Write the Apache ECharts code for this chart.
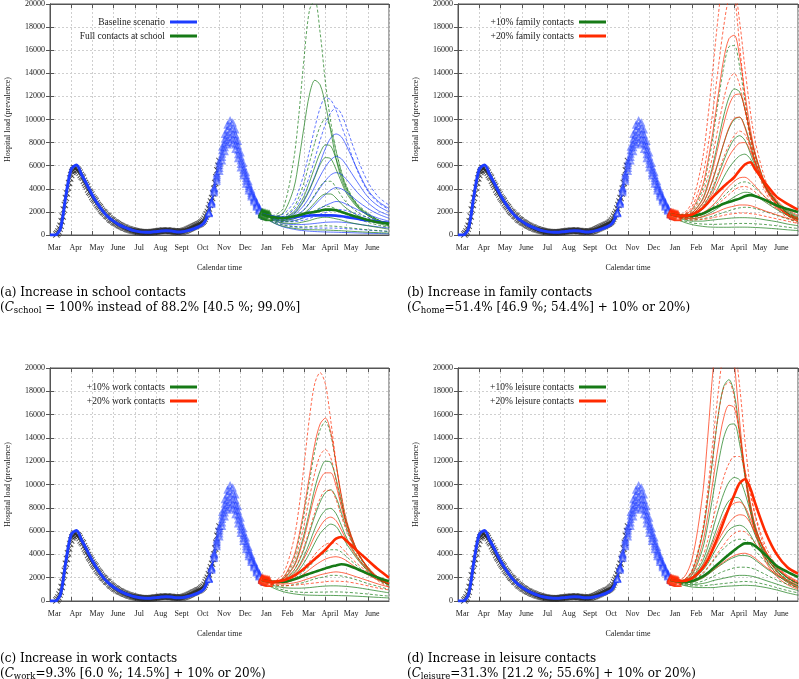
<!DOCTYPE html>
<html><head><meta charset="utf-8">
<script src="https://cdn.jsdelivr.net/npm/echarts/dist/echarts.min.js"></script>
<style>html,body{margin:0;padding:0;background:#fff}#c{width:799px;height:679px}</style>
</head><body><div id="c"></div>
<script>
// ---------- axis labels ----------
const monthLabels = ['Mar','Apr','May','June','Jul','Aug','Sept','Oct','Nov','Dec','Jan','Feb','Mar','April','May','June'];

// ---------- observed hospital load (x = months since 1 March) ----------
const obsStart = 0.3, obsStep = 0.1;
const obsValues = [50,300,800,1600,2600,3600,4500,5200,5600,5750,5650,5400,5050,4700,4350,3950,3650,3300,3050,2750,2500,2250,2000,1850,1650,1450,1300,1150,1050,930,820,730,640,570,500,440,390,340,300,280,250,230,220,220,230,250,270,300,320,340,360,370,380,370,350,320,300,280,280,300,340,400,470,560,650,740,820,900,1000,1150,1400,1800,2300,2900,3600,4500,5600,6400];
const obsStartB = 0.35;
const obsValuesB = [150,550,1200,2200,3200,4100,4900,5450,5800,5600,5550,5200,4950,4500,4200,3750,3500,3150,2950,2600,2400,2100,1950,1700,1600,1350,1250,1080,1000,860,790,680,620,530,480,410,370,320,290,260,240,220,210,230,240,260,290,310,340,350,380,370,390,350,340,300,290,270,300,310,370,430,520,600,700,780,870,950,1080,1250,1600,2000,2600,3200,4000,5000,6000];

// ---------- model fit (step 0.25 from 0) ----------
const fitStep = 0.25;
const fitValues = [0,0,600,3400,5700,6050,5200,4350,3450,2700,2050,1550,1200,900,680,500,360,270,230,240,290,340,370,340,270,290,380,520,700,1000,1900];

// ---------- model ensemble during second wave (step 0.125 from 7.5) ----------
const bandStart = 7.5, bandStep = 0.125;
const bandCentral = [1900,2800,3900,5000,6000,7000,7900,8600,8900,8700,8200,7300,6400,5600,4900,4200,3600,3100,2600,2200,1850,1650];
const bandUpper   = [1950,2900,4100,5300,6400,7600,8700,9500,9900,9700,9100,8100,7100,6200,5400,4600,3900,3300,2800,2350,1950,1700];
const bandLower   = [1850,2650,3650,4650,5500,6400,7200,7800,8000,7900,7400,6600,5800,5100,4400,3800,3300,2850,2400,2050,1750,1600];
const bandMidUp   = [1920,2850,4000,5150,6200,7300,8300,9100,9400,9200,8650,7700,6750,5900,5150,4400,3750,3200,2700,2280,1900,1680];
const bandMidLow  = [1880,2720,3780,4820,5750,6700,7550,8200,8450,8300,7800,6950,6100,5350,4650,4000,3450,2980,2500,2120,1800,1620];

// ---------- scenario start cluster (first days of each scenario) ----------
const startX = [10.0,10.05,10.1,10.15,10.2,10.25,10.3,10.35];
const startHigh = [1950,1950,1900,1900,1850,1850,1800,1800];
const startMid  = [1850,1800,1780,1750,1720,1700,1680,1650];
const startLow  = [1750,1700,1650,1620,1580,1550,1520,1500];

// ---------- scenario x positions (months since 1 March 2020) ----------
const scenX = [10,10.5,11,11.5,11.75,12,12.25,12.5,12.75,13,13.25,13.5,13.75,14,14.5,15,15.5,16];

// ---------- (a) school ----------
const schoolBaseLines = [
 [1800,1600,1800,2800,3900,5400,7300,9300,11000,11900,11700,10800,9500,8200,5600,3800,2800,2200],
 [1800,1550,1600,2200,2900,3900,5100,6600,8200,9600,10600,11000,10500,9300,6700,4600,3300,2600],
 [1800,1550,1500,1900,2400,3100,4000,5100,6300,7500,8400,8750,8500,7700,5700,3900,2900,2300],
 [1800,1500,1450,1700,2100,2600,3300,4200,5100,5900,6500,6800,6600,6000,4600,3300,2500,2000],
 [1800,1500,1400,1600,1850,2200,2750,3400,4100,4700,5200,5400,5250,4800,3700,2800,2100,1700],
 [1800,1450,1300,1400,1550,1800,2150,2600,3100,3500,3900,4100,4000,3700,2950,2300,1800,1450],
 [1800,1400,1200,1250,1350,1500,1750,2000,2300,2550,2750,2900,2850,2650,2200,1800,1450,1200],
 [1800,1400,1150,1150,1200,1300,1450,1600,1800,1950,2100,2200,2200,2100,1800,1500,1250,1050],
 [1750,1300,1000,900,900,920,950,1000,1050,1100,1120,1130,1110,1070,950,820,700,600],
 [1700,1200,850,700,650,620,600,600,600,600,600,590,570,550,490,420,360,310],
 [1650,1100,700,500,420,370,330,300,280,260,250,240,220,210,180,150,130,110]
];
const schoolBaseDash = [1,1,0,0,0,0,0,1,0,1,0];
const schoolFullLines = [
 [1800,1700,2300,6500,10500,15500,19500,20300,17500,13200,9800,7300,5500,4200,2700,1900,1300,900],
 [1800,1600,1900,4000,6500,9500,12200,13400,13000,11300,9000,6600,4900,3800,2500,1700,1200,850],
 [1800,1550,1600,2400,3300,4600,6300,8000,9400,10100,9200,7300,5500,4100,2600,1800,1300,900],
 [1800,1500,1500,2000,2600,3400,4600,5900,7100,7800,7700,6600,5200,4000,2600,1800,1300,900],
 [1800,1500,1400,1800,2300,3000,3900,5000,6100,6700,6600,5700,4600,3600,2400,1700,1200,850],
 [1800,1450,1300,1550,1800,2200,2800,3500,4200,4650,4650,4100,3400,2800,2000,1500,1100,800],
 [1800,1400,1250,1400,1600,1900,2300,2800,3300,3550,3550,3200,2700,2300,1700,1300,1000,750],
 [1800,1350,1150,1200,1350,1550,1800,2100,2350,2500,2450,2250,2000,1750,1400,1100,850,650],
 [1800,1300,1050,1000,1050,1150,1250,1400,1500,1550,1500,1400,1300,1150,950,800,650,500],
 [1750,1200,900,750,720,700,720,750,780,800,780,750,700,650,550,450,380,300],
 [1700,1100,750,580,520,480,460,450,440,430,410,390,370,340,290,240,200,170]
];
const schoolFullDash = [1,0,1,0,0,1,0,1,0,1,0];
const schoolBaseMean = [1800,1600,1480,1550,1600,1650,1680,1700,1700,1700,1700,1680,1620,1550,1400,1250,1150,1050];
const schoolFullMean = [1800,1550,1450,1600,1700,1850,1950,2000,2100,2200,2200,2150,2000,1850,1550,1300,1100,1000];

// ---------- (b) family ----------
const family10Lines = [
 [1800,1750,2100,3900,5900,8500,11600,14500,16300,16400,14600,11600,8800,6700,4000,2600,1700,1200],
 [1800,1700,1900,3100,4400,6100,8200,10300,11900,12650,12400,10900,8800,6900,4300,2800,1900,1400],
 [1800,1650,1800,2700,3600,4800,6300,7900,9200,10000,10200,9400,7900,6300,4100,2800,1900,1400],
 [1800,1650,1750,2400,3100,4000,5200,6400,7500,8300,8600,8200,7100,5900,4000,2800,2000,1500],
 [1800,1600,1650,2200,2700,3300,4100,5000,5800,6400,6850,7000,6600,5700,4100,2900,2100,1600],
 [1800,1550,1500,1800,2100,2450,2900,3350,3800,4200,4500,4600,4450,4050,3200,2500,1900,1500],
 [1800,1500,1400,1600,1800,2050,2350,2700,3000,3300,3550,3700,3650,3400,2800,2200,1700,1350],
 [1800,1450,1300,1400,1500,1650,1800,1950,2100,2250,2350,2400,2380,2300,2000,1700,1400,1150],
 [1750,1400,1200,1200,1250,1300,1350,1400,1450,1480,1500,1500,1480,1450,1300,1150,950,800],
 [1700,1300,1050,950,930,920,930,950,970,990,1000,1000,990,970,900,800,680,560],
 [1650,1200,900,750,700,680,670,670,670,680,680,680,670,650,600,530,450,380]
];
const family10Dash = [1,0,0,0,0,1,0,1,0,1,0];
const family20Lines = [
 [1800,1800,2800,6500,10000,14500,19000,22500,23000,21000,16500,12000,8500,6200,3600,2300,1500,1000],
 [1800,1750,2400,5000,7500,10800,14500,18000,20500,21000,18500,14500,10800,8000,4600,2900,1900,1300],
 [1800,1700,2200,4200,6300,9000,12200,15200,17000,17300,15500,12300,9300,7000,4100,2600,1700,1200],
 [1800,1700,2000,3500,5000,7000,9400,11700,13400,14000,13000,10800,8400,6400,3900,2500,1700,1200],
 [1800,1650,1900,3000,4200,5800,7700,9600,11200,12100,12200,10900,8800,6800,4200,2700,1800,1300],
 [1800,1650,1800,2700,3600,4900,6400,7900,9300,10100,10200,9300,7700,6100,3900,2600,1800,1300],
 [1800,1600,1750,2500,3200,4200,5400,6700,7800,8600,9000,8700,7600,6200,4100,2800,2000,1500],
 [1800,1600,1700,2300,2900,3700,4700,5800,6800,7500,7950,8000,7300,6200,4300,3000,2200,1700],
 [1800,1550,1550,1900,2200,2600,3100,3700,4200,4650,4950,5000,4700,4200,3200,2400,1800,1400],
 [1800,1550,1500,1750,2000,2300,2700,3100,3500,3900,4150,4200,4050,3700,2900,2300,1800,1450],
 [1800,1500,1400,1550,1700,1850,2050,2250,2400,2500,2600,2600,2550,2400,2050,1750,1450,1200],
 [1800,1450,1300,1350,1400,1500,1600,1700,1800,1850,1900,1900,1850,1800,1600,1400,1200,1000]
];
const family20Dash = [1,1,0,1,0,0,1,0,0,1,0,1];
const family10Mean = [1800,1650,1650,1850,2050,2300,2500,2700,2850,3000,3150,3350,3450,3350,3000,2550,2250,2000];
const family20Mean = [1800,1650,1750,2300,2750,3300,3750,4200,4600,5000,5600,6100,6300,5650,4400,3300,2700,2200];

// ---------- (c) work ----------
const work10Lines = [
 [1800,1650,1950,3600,5300,7600,10300,12900,14700,15400,14300,11700,9000,6800,4200,2700,1800,1300],
 [1800,1650,1900,3000,4200,5800,7700,9700,11200,12000,11900,10500,8500,6700,4300,2800,1900,1400],
 [1800,1600,1750,2600,3400,4500,5900,7300,8500,9300,9550,8900,7600,6200,4200,2900,2000,1500],
 [1800,1600,1700,2400,3000,3900,5000,6200,7200,7800,7950,7500,6500,5400,3800,2700,1900,1400],
 [1800,1600,1650,2150,2650,3300,4100,5000,5800,6300,6600,6400,5700,4900,3600,2600,1900,1400],
 [1800,1550,1550,1900,2200,2600,3000,3500,3900,4200,4400,4400,4200,3800,3000,2300,1800,1400],
 [1800,1450,1300,1400,1500,1600,1750,1900,2000,2100,2200,2200,2150,2050,1800,1500,1250,1000],
 [1750,1350,1150,1100,1100,1120,1150,1200,1250,1280,1300,1300,1280,1250,1150,1000,850,700],
 [1700,1250,950,800,760,740,740,750,760,770,780,780,770,750,680,600,500,420],
 [1650,1150,800,620,560,520,500,490,480,480,480,470,460,450,410,360,310,260]
];
const work10Dash = [1,0,0,0,0,1,1,0,1,0];
const work20Lines = [
 [1800,1700,2300,5200,8000,11800,15800,18700,19600,18600,15500,11900,8800,6500,3900,2500,1700,1200],
 [1800,1650,2000,3800,5600,8000,10800,13500,15200,15700,14500,11800,9100,6900,4300,2800,1900,1400],
 [1800,1650,1900,3300,4700,6600,8900,11000,12500,13000,12300,10400,8300,6500,4200,2800,1900,1400],
 [1800,1650,1850,2900,4000,5500,7300,9100,10400,11000,11000,9900,8100,6500,4300,2900,2000,1500],
 [1800,1600,1800,2600,3500,4700,6100,7600,8800,9500,9500,8700,7300,6000,4100,2900,2000,1500],
 [1800,1600,1700,2300,2900,3700,4600,5600,6400,7000,7200,6900,6100,5200,3700,2700,2000,1500],
 [1800,1550,1600,2000,2400,2900,3400,4000,4500,4850,5000,4950,4600,4100,3200,2500,1900,1500],
 [1800,1550,1550,1800,2050,2350,2700,3050,3350,3600,3750,3800,3700,3450,2800,2250,1800,1450],
 [1800,1500,1450,1550,1650,1800,1950,2100,2250,2350,2450,2500,2450,2350,2050,1750,1450,1200],
 [1800,1450,1300,1350,1400,1450,1500,1550,1600,1650,1700,1700,1680,1650,1500,1300,1100,950]
];
const work20Dash = [1,0,1,0,1,0,1,0,0,1];
const work10Mean = [1800,1650,1650,1850,2000,2200,2350,2500,2650,2800,2950,3050,3150,3100,2750,2350,2000,1700];
const work20Mean = [1800,1650,1750,2150,2450,2800,3200,3600,4000,4400,4900,5350,5500,5150,4300,3500,2700,2000];

// ---------- (d) leisure ----------
const leisure10Lines = [
 [1800,1750,2500,5700,8700,12400,16000,18400,19000,17800,14600,11000,8100,6000,3600,2300,1600,1100],
 [1800,1700,2200,4400,6500,9100,11800,14000,15100,15200,13500,10800,8300,6300,3900,2600,1800,1300],
 [1800,1650,2000,3400,4600,6200,7800,9200,10200,10600,10400,9300,7700,6200,4100,2800,2000,1500],
 [1800,1650,1950,3100,4100,5300,6600,7800,8600,8900,8800,8000,6800,5600,3900,2800,2000,1500],
 [1800,1600,1800,2600,3200,4000,4800,5500,6100,6400,6500,6300,5700,4900,3600,2700,2000,1500],
 [1800,1600,1700,2300,2800,3400,4000,4500,4900,5200,5300,5250,4900,4300,3300,2500,1900,1500],
 [1800,1550,1600,1950,2250,2600,2950,3250,3550,3750,3900,3900,3800,3500,2800,2200,1700,1300],
 [1800,1500,1500,1700,1900,2100,2350,2550,2700,2850,2900,2900,2850,2700,2250,1800,1450,1150],
 [1800,1500,1400,1500,1600,1750,1850,1950,2050,2150,2200,2200,2150,2050,1750,1450,1150,900],
 [1750,1450,1300,1300,1350,1400,1450,1500,1550,1600,1650,1680,1650,1600,1400,1150,900,700],
 [1700,1400,1200,1150,1150,1150,1200,1250,1280,1300,1330,1350,1330,1300,1150,950,700,500]
];
const leisure10Dash = [0,0,0,0,0,1,0,1,0,1,0];
const leisure20Lines = [
 [1800,1850,3500,9000,14000,19800,23500,25000,24000,20500,15500,11000,7800,5700,3300,2100,1400,1000],
 [1800,1750,2600,6000,9500,13800,18000,21500,23000,22000,18500,13800,9800,7200,4200,2600,1700,1200],
 [1800,1750,2500,5800,8800,12500,16000,18300,18800,17500,14200,10700,7900,5900,3500,2300,1600,1100],
 [1800,1700,2300,4900,7300,10300,13300,15700,16800,16600,14400,11300,8500,6400,3900,2500,1700,1200],
 [1800,1700,2100,3700,5200,7000,8900,10600,11800,12400,12400,11200,9200,7300,4600,3000,2000,1500],
 [1800,1650,1900,3000,3900,5000,6100,7200,8000,8400,8500,8100,7100,6000,4200,2900,2100,1600],
 [1800,1650,1850,2700,3400,4300,5200,6000,6700,7200,7400,7300,6700,5800,4200,3000,2200,1700],
 [1800,1600,1750,2400,2900,3500,4200,4800,5400,5800,6000,5950,5500,4900,3700,2800,2100,1600],
 [1800,1600,1650,2000,2300,2650,3000,3350,3650,3900,4050,4100,3950,3650,2900,2300,1800,1400]
];
const leisure20Dash = [0,1,1,0,1,0,0,1,0];
const leisure10Mean = [1800,1650,1700,2100,2400,2800,3200,3600,4000,4350,4700,4950,4950,4700,3900,3000,2500,2050];
const leisure20Mean = [1800,1700,1950,2800,3500,4500,5600,6800,8000,9100,10100,10450,9700,8300,5800,4000,2900,2350];

// ---------- captions / legend text ----------
const legendNames = [
  ['Baseline scenario','Full contacts at school'],
  ['+10% family contacts','+20% family contacts'],
  ['+10% work contacts','+20% work contacts'],
  ['+10% leisure contacts','+20% leisure contacts']
];
const captions = [
  '(a) Increase in school contacts\n({i|C}{s|school} = 100% instead of 88.2% [40.5 %; 99.0%]',
  '(b) Increase in family contacts\n({i|C}{s|home}=51.4% [46.9 %; 54.4%] + 10% or 20%)',
  '(c) Increase in work contacts\n({i|C}{s|work}=9.3% [6.0 %; 14.5%] + 10% or 20%)',
  '(d) Increase in leisure contacts\n({i|C}{s|leisure}=31.3% [21.2 %; 55.6%] + 10% or 20%)'
];

// ================= build =================
const BLUE = '#1d3cff', GREEN = '#167a16', RED = '#ff2a00', TXT = '#1a1a1a';
const SERIF = 'Liberation Serif', CAPF = 'DejaVu Serif';
const grids = [
  {left:50, top:3, width:339, height:232},
  {left:458, top:3, width:340, height:232},
  {left:50, top:368, width:339, height:233},
  {left:458, top:368, width:340, height:233}
];
const panels = [
  {a:[schoolBaseLines, schoolBaseDash, schoolBaseMean, BLUE], b:[schoolFullLines, schoolFullDash, schoolFullMean, GREEN]},
  {a:[family10Lines, family10Dash, family10Mean, GREEN], b:[family20Lines, family20Dash, family20Mean, RED]},
  {a:[work10Lines, work10Dash, work10Mean, GREEN], b:[work20Lines, work20Dash, work20Mean, RED]},
  {a:[leisure10Lines, leisure10Dash, leisure10Mean, GREEN], b:[leisure20Lines, leisure20Dash, leisure20Mean, RED]}
];

const xAxes = [], yAxes = [], series = [], legends = [], titles = [];
const xCross = 'path://M0,1L1,0L5,4L9,0L10,1L6,5L10,9L9,10L5,6L1,10L0,9L4,5Z';

grids.forEach((g, p) => {
  xAxes.push({
    gridIndex:p, type:'value', min:0, max:16, interval:1,
    name:'Calendar time', nameLocation:'middle', nameGap:29,
    nameTextStyle:{fontFamily:SERIF, fontSize:8, color:TXT},
    axisLine:{show:true, onZero:false, lineStyle:{color:'#555'}},
    axisTick:{show:true, inside:true, length:4, lineStyle:{color:'#555'}},
    axisLabel:{fontFamily:SERIF, fontSize:8, color:TXT, margin:9, padding:[0,0,0,9],
      showMaxLabel:false, formatter:(v)=> monthLabels[Math.round(v)] || ''},
    splitLine:{show:true, lineStyle:{color:'#cfcfcf', type:[2,2], width:1}}
  });
  yAxes.push({
    gridIndex:p, type:'value', min:0, max:20000, interval:2000,
    name:'Hospital load (prevalence)', nameLocation:'middle', nameGap:38,
    nameTextStyle:{fontFamily:SERIF, fontSize:8, color:TXT},
    axisLine:{show:true, lineStyle:{color:'#555'}},
    axisTick:{show:true, inside:true, length:4, lineStyle:{color:'#555'}},
    axisLabel:{fontFamily:SERIF, fontSize:8, color:TXT, margin:5, formatter:(v)=> String(v)},
    splitLine:{show:true, lineStyle:{color:'#cfcfcf', type:[2,2], width:1}}
  });
});
// mirror axes (top / right ticks)
grids.forEach((g, p) => {
  xAxes.push({gridIndex:p, type:'value', min:0, max:16, interval:1, position:'top',
    axisLine:{show:true, onZero:false, lineStyle:{color:'#555'}}, axisTick:{show:true, inside:true, length:4, lineStyle:{color:'#555'}},
    axisLabel:{show:false}, splitLine:{show:false}});
  yAxes.push({gridIndex:p, type:'value', min:0, max:20000, interval:2000, position:'right',
    axisLine:{show:true, lineStyle:{color:'#555'}}, axisTick:{show:true, inside:true, length:4, lineStyle:{color:'#555'}},
    axisLabel:{show:false}, splitLine:{show:false}});
});

function seq(start, step, vals){ return vals.map((v,i)=>[+(start + i*step).toFixed(4), v]); }
function zipX(xs, vals){ return vals.map((v,i)=>[xs[i], v]); }
function ln(p, data, opt){
  return Object.assign({
    type:'line', xAxisIndex:p, yAxisIndex:p, data:data, symbol:'none', showSymbol:false,
    smooth:0.3, silent:true, animation:false
  }, opt);
}

panels.forEach((P, p) => {
  // observed data (black crosses)
  series.push({type:'scatter', xAxisIndex:p, yAxisIndex:p, data:seq(obsStart, obsStep, obsValues),
    symbol:xCross, symbolSize:7, itemStyle:{color:'#2a2a2a', opacity:0.8}, silent:true, z:3});
  series.push({type:'scatter', xAxisIndex:p, yAxisIndex:p, data:seq(obsStartB, obsStep, obsValuesB),
    symbol:xCross, symbolSize:7, itemStyle:{color:'#2a2a2a', opacity:0.8}, silent:true, z:3});
  // fit
  series.push(ln(p, seq(0, fitStep, fitValues), {lineStyle:{color:BLUE, width:3}, z:4}));
  // ensemble band
  [bandUpper, bandMidUp, bandCentral, bandMidLow, bandLower].forEach(b => {
    series.push(ln(p, seq(bandStart, bandStep, b), {symbol:'emptyTriangle', showSymbol:true, symbolSize:5,
      itemStyle:{color:BLUE, borderColor:BLUE, opacity:0.5}, lineStyle:{color:BLUE, width:1, opacity:0.55}, z:4}));
  });
  // thin scenario lines (interleave groups)
  const A = P.a, B = P.b;
  const n = Math.max(A[0].length, B[0].length);
  for (let i = 0; i < n; i++) {
    [A, B].forEach(G => {
      if (i < G[0].length) {
        series.push(ln(p, zipX(scenX, G[0][i]), {
          lineStyle:{color:G[3], width:1, opacity:0.7, type: G[1][i] ? [3,2] : 'solid'}, z:5}));
      }
    });
  }
  // start-of-scenario markers
  [startHigh, startMid, startLow].forEach(s => {
    series.push(ln(p, zipX(startX, s), {symbol:'emptyTriangle', showSymbol:true, symbolSize:5, smooth:false,
      itemStyle:{color:B[3], borderColor:B[3], opacity:0.7}, lineStyle:{color:B[3], width:1, opacity:0.6}, z:5}));
  });
  // thick means
  series.push(ln(p, zipX(scenX, A[2]), {name:legendNames[p][0], itemStyle:{color:A[3]}, lineStyle:{color:A[3], width:2.6}, z:6}));
  series.push(ln(p, zipX(scenX, B[2]), {name:legendNames[p][1], itemStyle:{color:B[3]}, lineStyle:{color:B[3], width:2.6}, z:7}));

  const g = grids[p];
  legends.push({
    right: (p % 2 === 0) ? 602 : 193, top: g.top + 14, orient:'vertical', align:'right',
    icon:'rect', itemWidth:27, itemHeight:3, itemGap:4, padding:0, selectedMode:false,
    data: legendNames[p], textStyle:{fontFamily:SERIF, fontSize:9.5, color:TXT, lineHeight:10}
  });
  titles.push({
    left: (p % 2 === 0) ? 0 : 407, top: g.top + g.height + 50, padding:0,
    text: captions[p],
    textStyle:{fontFamily:CAPF, fontSize:12, fontWeight:'normal', color:'#000', lineHeight:15,
      rich:{ i:{fontStyle:'italic', fontSize:12, fontFamily:CAPF}, s:{fontSize:8.5, fontFamily:CAPF, padding:[7,0,0,0]} }}
  });
});

const chart = echarts.init(document.getElementById('c'), null, {renderer:'canvas'});
chart.setOption({
  animation:false,
  backgroundColor:'#fff',
  grid: grids.map(g => Object.assign({show:true, borderColor:'#555', borderWidth:1, backgroundColor:'transparent'}, g)),
  xAxis: xAxes, yAxis: yAxes, series: series, legend: legends, title: titles
});
</script></body></html>
